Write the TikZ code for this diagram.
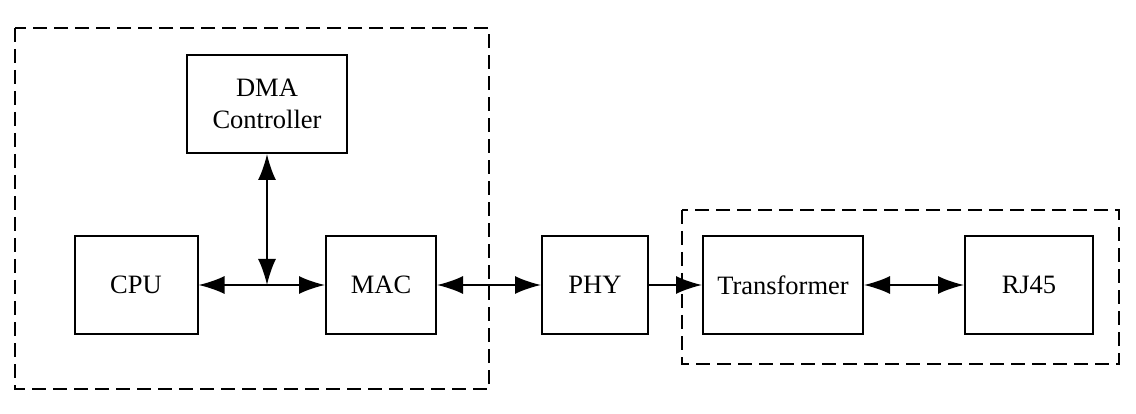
\documentclass[tikz,border=0pt]{standalone}
\usepackage{fontspec}
\setmainfont{Liberation Serif}
\usetikzlibrary{arrows.meta}
\begin{document}
\begin{tikzpicture}[x=1pt,y=-1pt,
    block/.style ={draw, line width=2pt, inner sep=0pt, align=center, font=\fontsize{26.5}{32}\selectfont},
    group/.style ={draw, line width=2pt, dash pattern=on 14pt off 7pt},
    link/.style ={line width=2pt, -{Latex[length=26pt,width=18pt]}},
    dlink/.style ={line width=2pt, {Latex[length=26pt,width=18pt]}-{Latex[length=26pt,width=18pt]}}]
   \useasboundingbox (0,0) rectangle (1136,414);

   \draw[group] (15,28) rectangle (489,389);
   \draw[group] (682,210) rectangle (1119,364);

   \node[block, minimum width=160pt, minimum height=98pt] (dma) at (267,104) {DMA\\Controller};
   \node[block, minimum width=123pt, minimum height=97pt] (cpu) at (136,285) {CPU};
   \node[block, minimum width=110pt, minimum height=97pt] (mac) at (381,285) {MAC};
   \node[block, minimum width=106pt, minimum height=97pt] (phy) at (595,285) {PHY};
   \node[block, minimum width=160pt, minimum height=97pt] (trans) at (783,285) {Transformer};
   \node[block, minimum width=128pt, minimum height=97pt] (rj) at (1029,285) {RJ45};

   \coordinate (bus) at (267,285);

   % links
   \draw[dlink] (cpu) -- (mac);
   \draw[dlink] (dma) -- (bus);
   \draw[dlink] (mac) -- (phy);
   \draw[link] (phy) -- (trans);
   \draw[dlink] (trans) -- (rj);
\end{tikzpicture}
\end{document}
